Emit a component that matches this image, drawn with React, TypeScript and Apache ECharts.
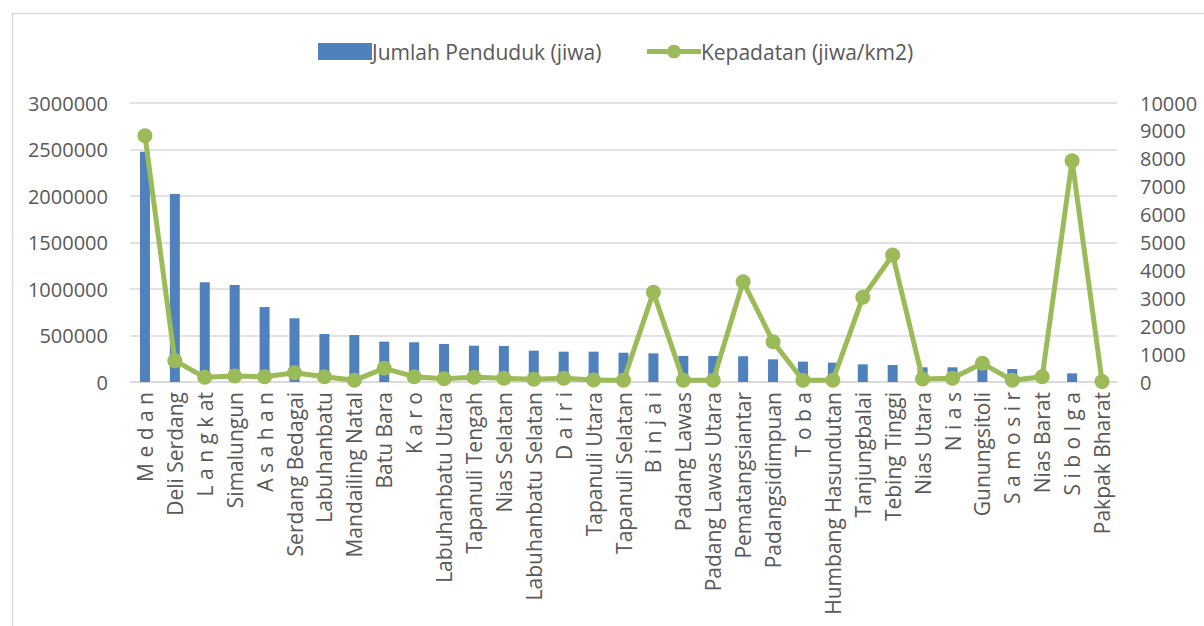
import React, { useEffect, useRef } from "react";
import * as echarts from "echarts";

const categories = [
  "M e d a n", "Deli Serdang", "L a n g k at", "Simalungun", "A s a h a n",
  "Serdang Bedagai", "Labuhanbatu", "Mandailing Natal", "Batu Bara", "K a r o",
  "Labuhanbatu Utara", "Tapanuli Tengah", "Nias Selatan", "Labuhanbatu Selatan", "D a i r i",
  "Tapanuli Utara", "Tapanuli Selatan", "B i n j a i", "Padang Lawas", "Padang Lawas Utara",
  "Pematangsiantar", "Padangsidimpuan", "T o b a", "Humbang Hasundutan", "Tanjungbalai",
  "Tebing Tinggi", "Nias Utara", "N i a s", "Gunungsitoli", "S a m o s i r",
  "Nias Barat", "S i b o l g a", "Pakpak Bharat",
];

const penduduk = [
  2476000, 2021000, 1072000, 1043000, 806000,
  685000, 516000, 505000, 434000, 427000,
  409000, 390000, 387000, 337000, 326000,
  326000, 315000, 308000, 280000, 279000,
  277000, 244000, 219000, 208000, 190000,
  183000, 158000, 158000, 147000, 140000,
  93000, 93000, 57000,
];

const kepadatan = [
  8830, 764, 167, 215, 190,
  334, 190, 60, 490, 190,
  120, 167, 131, 100, 131,
  70, 60, 3214, 60, 60,
  3596, 1446, 60, 60, 3035,
  4552, 110, 131, 669, 60,
  190, 7932, 20,
];

const leftTicks = { min: 0, max: 3000000, interval: 500000 };
const rightTicks = { min: 0, max: 10000, interval: 1000 };

const FONT = "Open Sans";
const TEXT = "#595959";
const GRID = "#d9d9d9";
const plain = (v: number) => String(v);

export default function App() {
  const ref = useRef<HTMLDivElement>(null);
  useEffect(() => {
    if (!ref.current) return;
    const chart = echarts.init(ref.current, undefined, { renderer: "svg" });
    chart.setOption({
      animation: false,
      textStyle: { fontFamily: FONT },
      graphic: [
        {
          type: "rect",
          shape: { x: 12.5, y: 13.5, width: 1400, height: 800 },
          style: { fill: "none", stroke: GRID, lineWidth: 1.5 },
          silent: true,
          z: -10,
        },
      ],
      legend: {
        left: 313,
        top: 36,
        itemWidth: 54,
        itemHeight: 17,
        itemGap: 43,
        textStyle: { fontFamily: FONT, fontSize: 21, color: TEXT, padding: [0, 0, 0, -5] },
        data: [
          { name: "Jumlah Penduduk (jiwa)", icon: "rect" },
          {
            name: "Kepadatan (jiwa/km2)",
            lineStyle: { width: 5, color: "#9bbb59" },
            itemStyle: { color: "#9bbb59" },
          },
        ],
      },
      grid: { left: 130, right: 87, top: 103, bottom: 244, containLabel: false },
      xAxis: {
        type: "category",
        data: categories,
        axisTick: { show: false },
        axisLine: { lineStyle: { color: GRID, width: 1.5 } },
        axisLabel: {
          interval: 0,
          rotate: 90,
          margin: 10,
          fontFamily: FONT,
          fontSize: 21,
          color: TEXT,
        },
      },
      yAxis: [
        {
          type: "value",
          ...leftTicks,
          axisLine: { show: false },
          axisTick: { show: false },
          splitLine: { lineStyle: { color: GRID, width: 1.5 } },
          axisLabel: { margin: 22, fontFamily: FONT, fontSize: 20, color: TEXT, formatter: plain },
        },
        {
          type: "value",
          ...rightTicks,
          axisLine: { show: false },
          axisTick: { show: false },
          splitLine: { show: false },
          axisLabel: { margin: 23, fontFamily: FONT, fontSize: 20, color: TEXT, formatter: plain },
        },
      ],
      series: [
        {
          name: "Jumlah Penduduk (jiwa)",
          type: "bar",
          data: penduduk,
          barWidth: 10,
          itemStyle: { color: "#4f81bd" },
          yAxisIndex: 0,
        },
        {
          name: "Kepadatan (jiwa/km2)",
          type: "line",
          data: kepadatan,
          yAxisIndex: 1,
          symbol: "circle",
          symbolSize: 15,
          lineStyle: { color: "#9bbb59", width: 5 },
          itemStyle: { color: "#9bbb59" },
        },
      ],
    });
    return () => chart.dispose();
  }, []);
  return (
    <div
      ref={ref}
      style={{ position: "fixed", left: 0, top: 0, width: 1204, height: 626, background: "#fff" }}
    />
  );
}
